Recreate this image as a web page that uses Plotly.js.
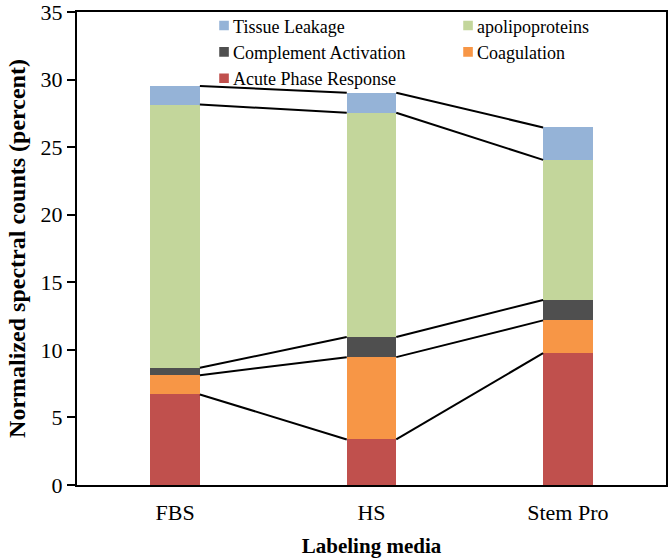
<!DOCTYPE html>
<html>
<head>
<meta charset="utf-8">
<script src="https://cdn.plot.ly/plotly-3.0.1.min.js"></script>
<style>html,body{margin:0;padding:0;background:#fff;overflow:hidden;}#chart{width:670px;height:559px;}</style>
</head>
<body>
<div id="chart"></div>
<script>
var categories = ['FBS', 'HS', 'Stem Pro'];
var acutePhase = [6.70, 3.37, 9.76];
var coagulation = [1.42, 6.09, 2.42];
var complement = [0.56, 1.49, 1.51];
var apolipoproteins = [19.47, 16.59, 10.37];
var tissueLeakage = [1.37, 1.49, 2.40];

var seriesNames = ['Acute Phase Response', 'Coagulation', 'Complement Activation', 'apolipoproteins', 'Tissue Leakage'];
var seriesValues = [acutePhase, coagulation, complement, apolipoproteins, tissueLeakage];
var seriesColors = ['#C0504D', '#F79646', '#4F4F4F', '#C3D69B', '#95B3D7'];

var barWidth = 0.252;
var xIdx = categories.map(function (c, i) { return i; });

var traces = [];
var cum = categories.map(function () { return 0; });
var tops = [];
seriesValues.forEach(function (vals, k) {
  traces.push({
    type: 'bar', x: xIdx, y: vals, name: seriesNames[k],
    width: barWidth, marker: {color: seriesColors[k], line: {width: 0}},
    hoverinfo: 'name+y'
  });
  cum = cum.map(function (c, i) { return c + vals[i]; });
  tops.push(cum.slice());
});

// connector lines between tops of segments
tops.forEach(function (t) {
  var lx = [], ly = [];
  for (var i = 0; i < t.length - 1; i++) {
    lx.push(xIdx[i] + barWidth / 2, xIdx[i + 1] - barWidth / 2, null);
    ly.push(t[i], t[i + 1], null);
  }
  traces.push({
    type: 'scatter', mode: 'lines', x: lx, y: ly, showlegend: false,
    line: {color: '#000', width: 2}, hoverinfo: 'skip'
  });
});

var font = 'Liberation Serif, Times New Roman, serif';
var layout = {
  width: 670, height: 559,
  margin: {l: 77, r: 4, t: 12, b: 74, autoexpand: false},
  barmode: 'stack',
  paper_bgcolor: '#fff', plot_bgcolor: '#fff',
  font: {family: font, color: '#000', size: 22},
  showlegend: true,
  legend: {
    orientation: 'h', traceorder: 'reversed',
    x: 0.197, xanchor: 'left', y: 1.01, yanchor: 'top',
    entrywidth: 199, bgcolor: 'rgba(0,0,0,0)',
    font: {family: font, size: 18, color: '#000'}
  },
  xaxis: {
    range: [-0.5, 2.5], tickmode: 'array', tickvals: xIdx, ticktext: categories,
    showline: true, linecolor: '#000', linewidth: 2, mirror: true,
    ticks: '', showgrid: false, zeroline: false, ticklabelstandoff: 7,
    tickfont: {family: font, size: 22},
    title: {text: '<b>Labeling media</b>', font: {family: font, size: 21}, standoff: 14}
  },
  yaxis: {
    range: [0, 35], dtick: 5, tick0: 0,
    showline: true, linecolor: '#000', linewidth: 2, mirror: true,
    ticks: 'outside', ticklen: 8, tickwidth: 2, tickcolor: '#000',
    ticklabeloverflow: 'allow',
    showgrid: false, zeroline: false,
    tickfont: {family: font, size: 22},
    title: {text: '<b>Normalized spectral counts (percent)</b>', font: {family: font, size: 24}, standoff: 8}
  }
};

Plotly.newPlot('chart', traces, layout, {displayModeBar: false, staticPlot: true}).then(function (gd) {
  // legend swatches: smaller and closer to their labels, as in the original
  var pts = gd.querySelectorAll('.legend .legendpoints path');
  pts.forEach(function (p) { p.setAttribute('transform', 'translate(31,0) scale(0.8)'); });
});
</script>
</body>
</html>
